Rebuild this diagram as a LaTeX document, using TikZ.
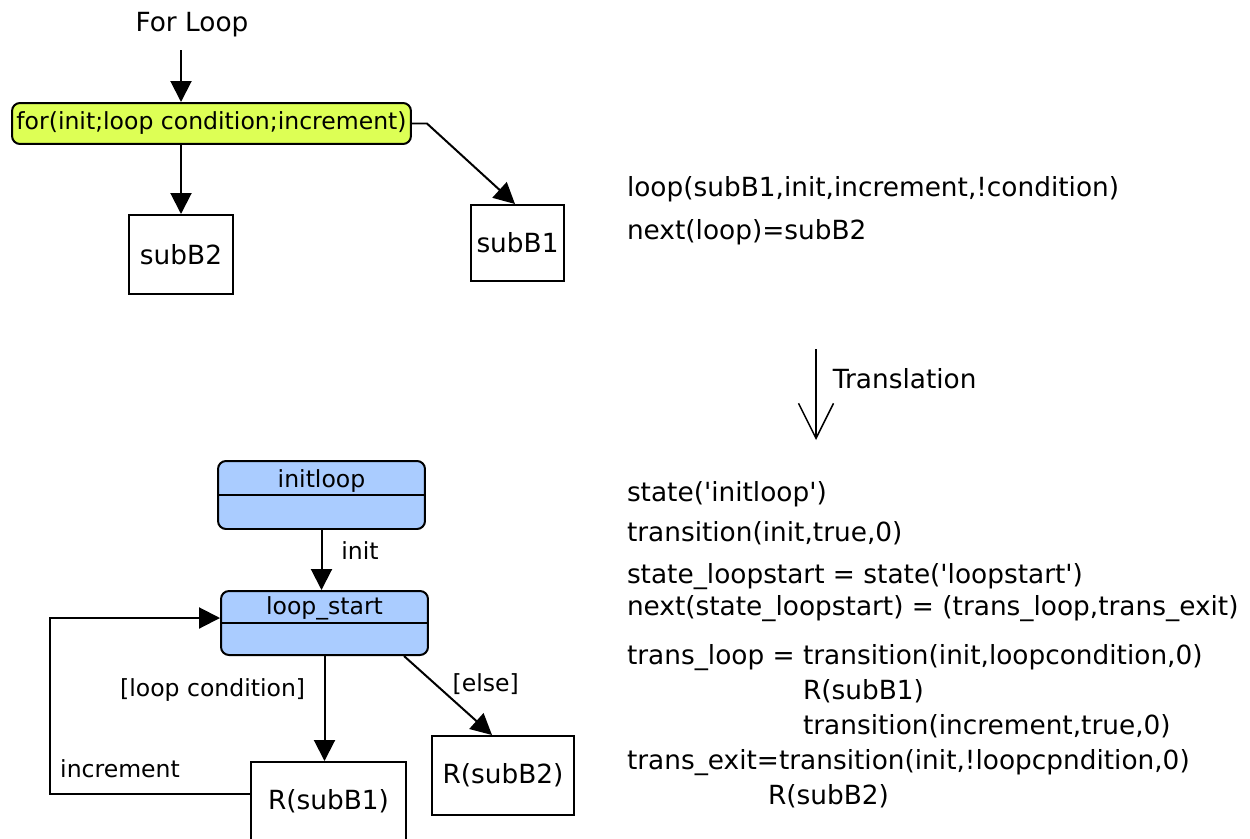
\documentclass[tikz,border=0pt]{standalone}
\usepackage{fontspec}
\setmainfont{DejaVu Sans}
\usepackage{tikz}
\usetikzlibrary{arrows.meta,positioning,calc}
\definecolor{loopyellow}{RGB}{221,255,85}
\definecolor{stateblue}{RGB}{170,204,255}

\begin{document}
\begin{tikzpicture}[x=0.02cm, y=-0.02cm, line width=0.04cm,
  >={Triangle[length=0.42cm,width=0.42cm]},
  bigtext/.style={font=\fontsize{15}{17}\selectfont},
  smalltext/.style={font=\fontsize{13.4}{15}\selectfont},
  block/.style={draw, bigtext, inner sep=0pt},
  statebox/.style={draw, rounded corners=0.16cm, fill=stateblue, minimum width=4.14cm},
  codeline/.style={bigtext, anchor=west, inner sep=0pt, text height=11.4pt, text depth=2pt}]
  \useasboundingbox (0,0) rectangle (1250,838);
  \clip (0,0) rectangle (1250,838);

  \node[bigtext] (title) at (192,25) {For Loop};
  \node[draw, rounded corners=0.16cm, fill=loopyellow, smalltext, inner sep=0pt, minimum width=7.98cm, minimum height=0.82cm] (forbox) at (211.5,123.5) {for(init;loop condition;increment)};
  \node[block, minimum width=2.08cm, minimum height=1.58cm] (subtwo) at (181,254.5) {subB2};
  \node[block, minimum width=1.86cm, minimum height=1.52cm] (subone) at (517.5,243) {subB1};
  \draw[->, shorten <=0.12cm] (title.south -| subtwo) -- (subtwo |- forbox.north);
  \draw[->] (subtwo |- forbox.south) -- (subtwo);
  \draw[->] (forbox.east) -- ++(15,0) -- ([xshift=-0.05cm]subone.north);

  \node[codeline] (looprule) at (626,188) {loop(subB1,init,increment,!condition)};
  \node[codeline] (nextrule) at (626,231) {next(loop)=subB2};

  \coordinate (transtop) at (816,349);
  \coordinate (transend) at (816,440);
  \draw[-{Straight Barb[length=0.7cm,width=0.7cm]}, line width=0.03cm] (transtop) -- (transend);
  \node[bigtext, anchor=west] (transl) at (826,379) {Translation};

  \node[statebox, minimum height=1.36cm] (initloop) at (321.5,495) {};
  \draw (initloop.west) -- (initloop.east);
  \node[smalltext] (initname) at ([yshift=0.28cm]initloop.center) {initloop};
  \node[statebox, minimum height=1.28cm] (loopstart) at (324.5,623) {};
  \draw (loopstart.west) -- (loopstart.east);
  \node[smalltext] (startname) at ([yshift=0.3cm]loopstart.center) {loop\_start};

  \node[block, minimum width=3.1cm, minimum height=1.56cm] (rone) at (328.5,801) {R(subB1)};
  \node[block, minimum width=2.84cm, minimum height=1.58cm] (rtwo) at (503,775.5) {R(subB2)};

  \draw[->] (initloop.south) -- node[pos=0.35, right=0.26cm, smalltext] {init} (initloop.south |- loopstart.north);
  \draw[->] (loopstart.south) -- node[pos=0.32, left=0.25cm, smalltext] {[loop condition]} (loopstart.south |- rone.north);
  \draw[->] ([xshift=-0.5cm]loopstart.south east) -- node[pos=0.35, right=0.22cm, smalltext] {[else]} ([xshift=-0.22cm]rtwo.north);
  \draw[->] ([yshift=0.14cm]rone.west) -- node[pos=0.65, above, yshift=0.18cm, smalltext] {increment} ++(-200,0) |- ([yshift=0.1cm]loopstart.west);

  \node[codeline] (initstate) at (626,493) {state(\textquotesingle initloop\textquotesingle)};
  \node[codeline] (inittrans) at (626,533) {transition(init,true,0)};
  \node[codeline] (startstate) at (626,575) {state\_loopstart = state(\textquotesingle loopstart\textquotesingle)};
  \node[codeline] (startnext) at (626,607) {next(state\_loopstart) = (trans\_loop,trans\_exit)};
  \node[codeline] (transloop) at (626,656) {trans\_loop = transition(init,loopcondition,0)};
  \node[codeline] (loopbody) at (802,691) {R(subB1)};
  \node[codeline] (loopinc) at (802,726) {transition(increment,true,0)};
  \node[codeline] (transexit) at (626,761) {trans\_exit=transition(init,!loopcpndition,0)};
  \node[codeline] (exitbody) at (767,796) {R(subB2)};
\end{tikzpicture}
\end{document}
